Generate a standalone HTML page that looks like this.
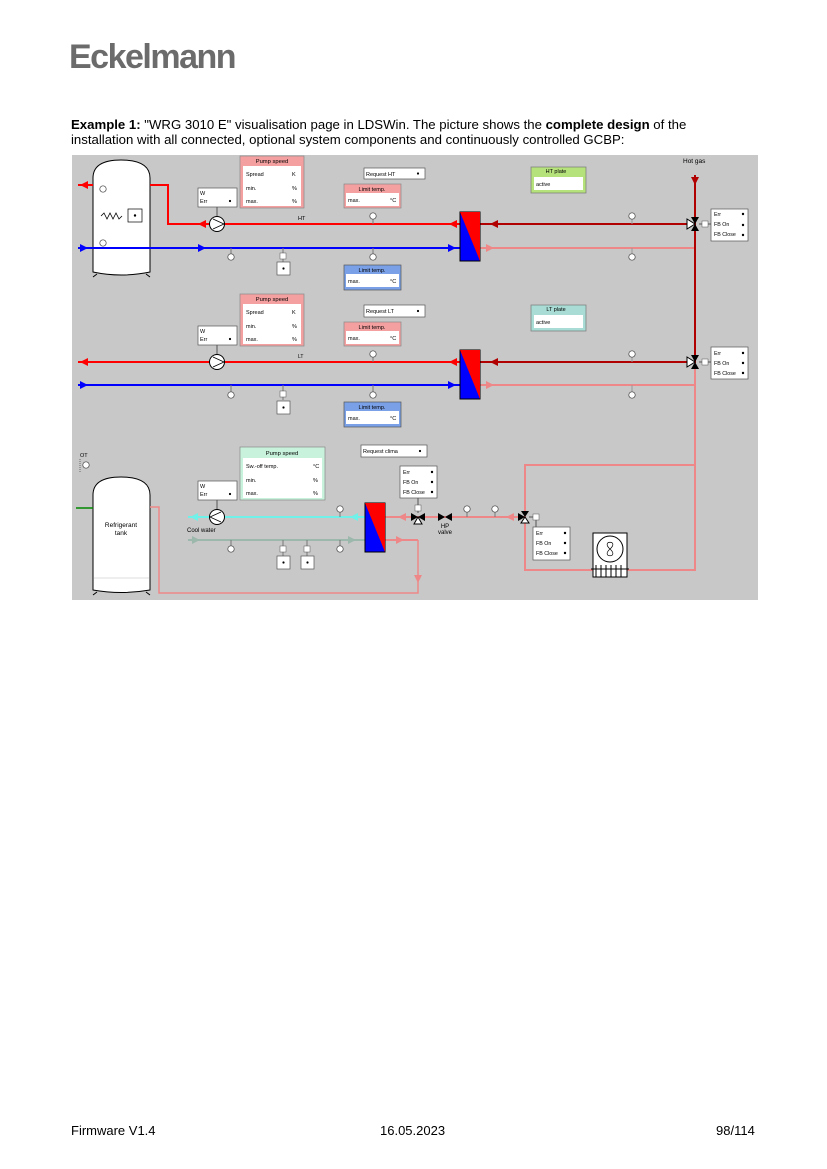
<!DOCTYPE html>
<html><head><meta charset="utf-8"><style>
body{margin:0;background:#fff;width:827px;height:1169px;position:relative;font-family:"Liberation Sans",sans-serif;overflow:hidden}
.logo{position:absolute;left:69px;top:38px;font-size:34px;font-weight:bold;color:#6b6b6b;letter-spacing:-1.5px}
.p{position:absolute;left:71px;top:117px;width:655px;font-size:13.2px;line-height:15px;color:#000}
.f{position:absolute;top:1123px;font-size:13px}
svg{position:absolute;left:0;top:0}
svg text{font-family:"Liberation Sans",sans-serif}
</style></head><body>
<div class="logo">Eckelmann</div>
<div class="p"><b>Example 1:</b> "WRG 3010 E" visualisation page in LDSWin. The picture shows the <b>complete design</b> of the installation with all connected, optional system components and continuously controlled GCBP:</div>
<div class="f" style="left:71px">Firmware V1.4</div>
<div class="f" style="left:380px">16.05.2023</div>
<div class="f" style="left:716px">98/114</div>
<svg width="827" height="1169" viewBox="0 0 827 1169">
<defs>
<g id="s"><circle r="3.2" fill="#fff" stroke="#444" stroke-width="0.7"/></g>
</defs>
<rect x="72" y="155" width="686" height="445" fill="#c8c8c8"/>
<path d="M93,272 V178 Q93,160 121,160 Q150,160 150,178 V272 Q121,278 93,272Z" fill="#fff" stroke="#000" stroke-width="1"/>
<path d="M97,274 l-4,3 M146,274 l4,3" stroke="#000"/>
<path d="M101,216 l3,-3 3,6 3,-6 3,6 3,-6 3,6 3,-3" fill="none" stroke="#000" stroke-width="0.8"/>
<rect x="128" y="209" width="14" height="13" fill="#fff" stroke="#000" stroke-width="0.7"/><circle cx="135" cy="215.5" r="1.2"/>
<use href="#s" x="103" y="189"/><use href="#s" x="103" y="243"/>
<path d="M78,185 H93 M150,185 H168 V224 H460" stroke="#f00" stroke-width="2" fill="none"/>
<path d="M78,248 H460" stroke="#00f" stroke-width="2"/>
<path d="M480,224 H695" stroke="#b00000" stroke-width="2"/>
<path d="M480,248 H695" stroke="#e88" stroke-width="2"/>
<path d="M695,175 V363" stroke="#b00000" stroke-width="2"/>
<path d="M695,363 V570 H525 V465 H695" stroke="#e88" stroke-width="2" fill="none"/>
<polygon points="80,185 88,181 88,189" fill="#f00"/>
<polygon points="198,224 206,220 206,228" fill="#f00"/>
<polygon points="449,224 457,220 457,228" fill="#f00"/>
<polygon points="88,248 80,244 80,252" fill="#00f"/>
<polygon points="206,248 198,244 198,252" fill="#00f"/>
<polygon points="456,248 448,244 448,252" fill="#00f"/>
<polygon points="490,224 498,220 498,228" fill="#b00000"/>
<polygon points="494,248 486,244 486,252" fill="#e88"/>
<polygon points="691,177 699,177 695,185" fill="#b00000"/>
<text x="683" y="163" font-size="6.5">Hot gas</text>
<line x1="217" y1="207" x2="217" y2="216" stroke="#555"/>
<circle cx="217" cy="224" r="7.5" fill="#fff" stroke="#000"/><path d="M213,219 L224,224 L213,229" fill="none" stroke="#000" stroke-width="0.8"/>
<rect x="198" y="188" width="39" height="19" fill="#fff" stroke="#555" stroke-width="0.7"/>
<text x="200" y="195" font-size="5.5">W</text><text x="200" y="203" font-size="5.5">Err</text><circle cx="230" cy="201" r="1.1"/>
<rect x="240" y="156" width="64" height="52" fill="#f5a0a0" stroke="#888" stroke-width="0.7"/>
<text x="272" y="163" font-size="5.8" text-anchor="middle">Pump speed</text>
<rect x="243" y="166" width="58" height="40" fill="#fff"/>
<text x="246" y="176" font-size="5.5">Spread</text><text x="292" y="176" font-size="5.5">K</text>
<text x="246" y="190" font-size="5.5">min.</text><text x="292" y="190" font-size="5.5">%</text>
<text x="246" y="203" font-size="5.5">max.</text><text x="292" y="203" font-size="5.5">%</text>
<rect x="364" y="168" width="61" height="11" fill="#fff" stroke="#555" stroke-width="0.7"/><text x="366" y="176" font-size="5.5">Request HT</text><circle cx="418" cy="173.5" r="1.1"/>
<rect x="344" y="184" width="57" height="24" fill="#f5a0a0" stroke="#888" stroke-width="0.7"/><text x="372" y="191" font-size="5.5" text-anchor="middle">Limit temp.</text>
<rect x="346" y="193" width="53" height="13" fill="#fff"/><text x="348" y="202" font-size="5.5">max.</text><text x="390" y="202" font-size="5.5">°C</text>
<text x="298" y="220" font-size="5.5">HT</text>
<line x1="373" y1="217" x2="373" y2="224" stroke="#777"/><use href="#s" x="373" y="216"/>
<line x1="231" y1="248" x2="231" y2="256" stroke="#777"/><use href="#s" x="231" y="257"/>
<line x1="283" y1="248" x2="283" y2="262" stroke="#777"/><rect x="280" y="253" width="6" height="6" fill="#fff" stroke="#555" stroke-width="0.5"/>
<rect x="277" y="262" width="13" height="13" fill="#fff" stroke="#555" stroke-width="0.7"/><circle cx="283.5" cy="268.5" r="1.1"/>
<line x1="373" y1="248" x2="373" y2="256" stroke="#777"/><use href="#s" x="373" y="257"/>
<rect x="344" y="265" width="57" height="25" fill="#7aa0e8" stroke="#555" stroke-width="0.7"/><text x="372" y="272" font-size="5.5" text-anchor="middle">Limit temp.</text>
<rect x="346" y="274" width="53" height="13" fill="#fff"/><text x="348" y="283" font-size="5.5">max.</text><text x="390" y="283" font-size="5.5">°C</text>
<rect x="460" y="212" width="20" height="49" fill="#00f" stroke="#000"/><polygon points="460,212 480,212 480,261" fill="#f00"/>
<line x1="632" y1="216" x2="632" y2="224" stroke="#999"/><use href="#s" x="632" y="216"/>
<line x1="632" y1="248" x2="632" y2="256" stroke="#999"/><use href="#s" x="632" y="257"/>
<rect x="531" y="167" width="55" height="26" fill="#b5e27a" stroke="#777" stroke-width="0.7"/><text x="556" y="173" font-size="5.5" text-anchor="middle">HT plate</text>
<rect x="534" y="177" width="49" height="13" fill="#fff"/><text x="536" y="186" font-size="5.5">active</text>
<polygon points="687,219 687,229 695,224" fill="#fff" stroke="#000"/><polygon points="691,217 699,217 695,224" fill="#000"/><polygon points="691,231 699,231 695,224" fill="#000"/>
<line x1="699" y1="224" x2="702" y2="224" stroke="#555"/><rect x="702" y="221" width="6" height="6" fill="#fff" stroke="#555" stroke-width="0.5"/><line x1="708" y1="224" x2="711" y2="224" stroke="#555"/>
<rect x="711" y="209" width="37" height="32" fill="#fff" stroke="#555" stroke-width="0.7"/>
<text x="714" y="216" font-size="5.3">Err</text><text x="714" y="226" font-size="5.3">FB On</text><text x="714" y="236" font-size="5.3">FB Close</text>
<circle cx="743" cy="214" r="1.2"/><circle cx="743" cy="225" r="1.2"/><circle cx="743" cy="235" r="1.2"/>
<path d="M78,362 H460" stroke="#f00" stroke-width="2"/>
<path d="M78,385 H460" stroke="#00f" stroke-width="2"/>
<path d="M480,362 H695" stroke="#b00000" stroke-width="2"/>
<path d="M480,385 H695" stroke="#e88" stroke-width="2"/>
<polygon points="80,362 88,358 88,366" fill="#f00"/>
<polygon points="449,362 457,358 457,366" fill="#f00"/>
<polygon points="88,385 80,381 80,389" fill="#00f"/>
<polygon points="456,385 448,381 448,389" fill="#00f"/>
<polygon points="490,362 498,358 498,366" fill="#b00000"/>
<polygon points="494,385 486,381 486,389" fill="#e88"/>
<line x1="217" y1="345" x2="217" y2="354" stroke="#555"/>
<circle cx="217" cy="362" r="7.5" fill="#fff" stroke="#000"/><path d="M213,357 L224,362 L213,367" fill="none" stroke="#000" stroke-width="0.8"/>
<rect x="198" y="326" width="39" height="19" fill="#fff" stroke="#555" stroke-width="0.7"/>
<text x="200" y="333" font-size="5.5">W</text><text x="200" y="341" font-size="5.5">Err</text><circle cx="230" cy="339" r="1.1"/>
<rect x="240" y="294" width="64" height="52" fill="#f5a0a0" stroke="#888" stroke-width="0.7"/>
<text x="272" y="301" font-size="5.8" text-anchor="middle">Pump speed</text>
<rect x="243" y="304" width="58" height="40" fill="#fff"/>
<text x="246" y="314" font-size="5.5">Spread</text><text x="292" y="314" font-size="5.5">K</text>
<text x="246" y="328" font-size="5.5">min.</text><text x="292" y="328" font-size="5.5">%</text>
<text x="246" y="341" font-size="5.5">max.</text><text x="292" y="341" font-size="5.5">%</text>
<rect x="364" y="305" width="61" height="12" fill="#fff" stroke="#555" stroke-width="0.7"/><text x="366" y="313" font-size="5.5">Request LT</text><circle cx="418" cy="311" r="1.1"/>
<rect x="344" y="322" width="57" height="24" fill="#f5a0a0" stroke="#888" stroke-width="0.7"/><text x="372" y="329" font-size="5.5" text-anchor="middle">Limit temp.</text>
<rect x="346" y="331" width="53" height="13" fill="#fff"/><text x="348" y="340" font-size="5.5">max.</text><text x="390" y="340" font-size="5.5">°C</text>
<text x="298" y="358" font-size="5">LT</text>
<line x1="373" y1="355" x2="373" y2="362" stroke="#777"/><use href="#s" x="373" y="354"/>
<line x1="231" y1="385" x2="231" y2="393" stroke="#777"/><use href="#s" x="231" y="395"/>
<line x1="283" y1="385" x2="283" y2="400" stroke="#777"/><rect x="280" y="391" width="6" height="6" fill="#fff" stroke="#555" stroke-width="0.5"/>
<rect x="277" y="401" width="13" height="13" fill="#fff" stroke="#555" stroke-width="0.7"/><circle cx="283.5" cy="407.5" r="1.1"/>
<line x1="373" y1="385" x2="373" y2="393" stroke="#777"/><use href="#s" x="373" y="395"/>
<rect x="344" y="402" width="57" height="25" fill="#7aa0e8" stroke="#555" stroke-width="0.7"/><text x="372" y="409" font-size="5.5" text-anchor="middle">Limit temp.</text>
<rect x="346" y="411" width="53" height="13" fill="#fff"/><text x="348" y="420" font-size="5.5">max.</text><text x="390" y="420" font-size="5.5">°C</text>
<rect x="460" y="350" width="20" height="49" fill="#00f" stroke="#000"/><polygon points="460,350 480,350 480,399" fill="#f00"/>
<line x1="632" y1="354" x2="632" y2="362" stroke="#999"/><use href="#s" x="632" y="354"/>
<line x1="632" y1="385" x2="632" y2="393" stroke="#999"/><use href="#s" x="632" y="395"/>
<rect x="531" y="305" width="55" height="26" fill="#a8dcd4" stroke="#777" stroke-width="0.7"/><text x="556" y="311" font-size="5.5" text-anchor="middle">LT plate</text>
<rect x="534" y="315" width="49" height="13" fill="#fff"/><text x="536" y="324" font-size="5.5">active</text>
<polygon points="687,357 687,367 695,362" fill="#fff" stroke="#000"/><polygon points="691,355 699,355 695,362" fill="#000"/><polygon points="691,369 699,369 695,362" fill="#000"/>
<line x1="699" y1="362" x2="702" y2="362" stroke="#555"/><rect x="702" y="359" width="6" height="6" fill="#fff" stroke="#555" stroke-width="0.5"/><line x1="708" y1="362" x2="711" y2="362" stroke="#555"/>
<rect x="711" y="347" width="37" height="32" fill="#fff" stroke="#555" stroke-width="0.7"/>
<text x="714" y="355" font-size="5.3">Err</text><text x="714" y="365" font-size="5.3">FB On</text><text x="714" y="375" font-size="5.3">FB Close</text>
<circle cx="743" cy="353" r="1.2"/><circle cx="743" cy="363" r="1.2"/><circle cx="743" cy="373" r="1.2"/>
<text x="80" y="457" font-size="5.5">OT</text><line x1="80" y1="459" x2="80" y2="472" stroke="#666" stroke-dasharray="1,1"/><use href="#s" x="86" y="465"/>
<path d="M93,590 V495 Q93,477 121,477 Q150,477 150,495 V590 Q121,595 93,590Z" fill="#fff" stroke="#000"/>
<line x1="94" y1="578" x2="149" y2="578" stroke="#ddd"/>
<path d="M97,592 l-4,3 M146,592 l4,3" stroke="#000"/>
<text x="121" y="527" font-size="6.5" text-anchor="middle">Refrigerant</text><text x="121" y="535" font-size="6.5" text-anchor="middle">tank</text>
<path d="M76,508 H93" stroke="#080" stroke-width="1.5"/>
<path d="M150,507 H159 V593 H418 V540" stroke="#e88" stroke-width="1.5" fill="none"/>
<polygon points="414,575 422,575 418,583" fill="#e88"/>
<path d="M188,517 H365" stroke="#6ff0e8" stroke-width="2"/>
<path d="M188,540 H365" stroke="#9cb8ac" stroke-width="2"/>
<polygon points="190,517 198,513 198,521" fill="#6ff0e8"/>
<polygon points="350,517 358,513 358,521" fill="#6ff0e8"/>
<polygon points="200,540 192,536 192,544" fill="#9cb8ac"/>
<polygon points="356,540 348,536 348,544" fill="#9cb8ac"/>
<text x="187" y="532" font-size="6">Cool water</text>
<line x1="217" y1="500" x2="217" y2="510" stroke="#555"/>
<circle cx="217" cy="517" r="7.5" fill="#fff" stroke="#000"/><path d="M221,512 L210,517 L221,522" fill="none" stroke="#000" stroke-width="0.8"/>
<rect x="198" y="481" width="39" height="19" fill="#fff" stroke="#555" stroke-width="0.7"/>
<text x="200" y="488" font-size="5.5">W</text><text x="200" y="496" font-size="5.5">Err</text><circle cx="230" cy="494" r="1.1"/>
<rect x="240" y="447" width="85" height="53" fill="#c8f2dc" stroke="#888" stroke-width="0.7"/>
<text x="282" y="455" font-size="5.8" text-anchor="middle">Pump speed</text>
<rect x="243" y="458" width="79" height="40" fill="#fff"/>
<text x="246" y="468" font-size="5.5">Sw.-off temp.</text><text x="313" y="468" font-size="5.5">°C</text>
<text x="246" y="482" font-size="5.5">min.</text><text x="313" y="482" font-size="5.5">%</text>
<text x="246" y="495" font-size="5.5">max.</text><text x="313" y="495" font-size="5.5">%</text>
<rect x="361" y="445" width="66" height="12" fill="#fff" stroke="#555" stroke-width="0.7"/><text x="363" y="453" font-size="5.5">Request clima</text><circle cx="420" cy="451" r="1.1"/>
<line x1="340" y1="509" x2="340" y2="517" stroke="#777"/><use href="#s" x="340" y="509"/>
<line x1="231" y1="540" x2="231" y2="548" stroke="#777"/><use href="#s" x="231" y="549"/>
<line x1="340" y1="540" x2="340" y2="548" stroke="#777"/><use href="#s" x="340" y="549"/>
<line x1="283" y1="540" x2="283" y2="556" stroke="#777"/><rect x="280" y="546" width="6" height="6" fill="#fff" stroke="#555" stroke-width="0.5"/>
<rect x="277" y="556" width="13" height="13" fill="#fff" stroke="#555" stroke-width="0.7"/><circle cx="283.5" cy="562.5" r="1.1"/>
<line x1="307" y1="540" x2="307" y2="556" stroke="#777"/><rect x="304" y="546" width="6" height="6" fill="#fff" stroke="#555" stroke-width="0.5"/>
<rect x="301" y="556" width="13" height="13" fill="#fff" stroke="#555" stroke-width="0.7"/><circle cx="307.5" cy="562.5" r="1.1"/>
<path d="M385,517 H525" stroke="#e88" stroke-width="2"/>
<path d="M385,540 H418" stroke="#e88" stroke-width="2"/>
<polygon points="398,517 406,513 406,521" fill="#e88"/>
<polygon points="506,517 514,513 514,521" fill="#e88"/>
<polygon points="404,540 396,536 396,544" fill="#e88"/>
<rect x="365" y="503" width="20" height="49" fill="#00f" stroke="#000"/><polygon points="365,503 385,503 385,552" fill="#f00"/>
<polygon points="411,513 411,521 418,517" fill="#000"/><polygon points="425,513 425,521 418,517" fill="#000"/><polygon points="414,524 422,524 418,517" fill="#fff" stroke="#000"/>
<line x1="418" y1="498" x2="418" y2="513" stroke="#555"/><rect x="415" y="505" width="6" height="6" fill="#fff" stroke="#555" stroke-width="0.5"/>
<rect x="400" y="466" width="37" height="32" fill="#fff" stroke="#555" stroke-width="0.7"/>
<text x="403" y="474" font-size="5.3">Err</text><text x="403" y="484" font-size="5.3">FB On</text><text x="403" y="494" font-size="5.3">FB Close</text>
<circle cx="432" cy="472" r="1.2"/><circle cx="432" cy="482" r="1.2"/><circle cx="432" cy="492" r="1.2"/>
<polygon points="438,513 438,521 445,517" fill="#000"/><polygon points="452,513 452,521 445,517" fill="#000"/>
<text x="445" y="528" font-size="6" text-anchor="middle">HP</text><text x="445" y="534" font-size="6" text-anchor="middle">valve</text>
<line x1="467" y1="509" x2="467" y2="517" stroke="#777"/><use href="#s" x="467" y="509"/>
<line x1="495" y1="509" x2="495" y2="517" stroke="#777"/><use href="#s" x="495" y="509"/>
<polygon points="521,511 529,511 525,517" fill="#000"/><polygon points="521,523 529,523 525,517" fill="#fff" stroke="#000"/><polygon points="518,513 518,521 525,517" fill="#000"/>
<line x1="529" y1="517" x2="533" y2="517" stroke="#555"/><rect x="533" y="514" width="6" height="6" fill="#fff" stroke="#555" stroke-width="0.5"/><line x1="536" y1="520" x2="536" y2="527" stroke="#555"/>
<rect x="533" y="527" width="37" height="33" fill="#fff" stroke="#555" stroke-width="0.7"/>
<text x="536" y="535" font-size="5.3">Err</text><text x="536" y="545" font-size="5.3">FB On</text><text x="536" y="555" font-size="5.3">FB Close</text>
<circle cx="565" cy="533" r="1.2"/><circle cx="565" cy="543" r="1.2"/><circle cx="565" cy="553" r="1.2"/>
<rect x="593" y="533" width="34" height="44" fill="#fff" stroke="#000"/>
<circle cx="610" cy="549" r="13" fill="#fff" stroke="#000"/>
<path d="M610,549 C600,540 620,540 610,549 C600,558 620,558 610,549" fill="none" stroke="#000" stroke-width="0.7"/>
<line x1="591" y1="569" x2="629" y2="569" stroke="#000"/>
<path d="M596,565 V577 M601,565 V577 M606,565 V577 M611,565 V577 M616,565 V577 M621,565 V577" stroke="#000"/>
</svg>
</body></html>
